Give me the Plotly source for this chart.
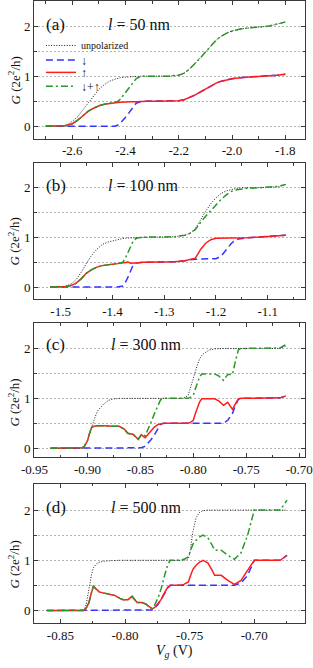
import plotly.graph_objects as go

# ---------------- data ----------------
# panel (a)  l = 50 nm
xa = [-2.70, -2.66, -2.63, -2.62, -2.60, -2.58, -2.56, -2.54, -2.52, -2.50, -2.48, -2.46, -2.44, -2.43,
      -2.42, -2.40, -2.38, -2.36, -2.34, -2.32, -2.28, -2.24, -2.20, -2.18, -2.16, -2.14, -2.12, -2.10,
      -2.08, -2.06, -2.04, -2.02, -2.00, -1.97, -1.94, -1.90, -1.86, -1.83, -1.80]
unpol_a = [0, 0, 0.01, 0.03, 0.10, 0.19, 0.33, 0.48, 0.62, 0.74, 0.83, 0.90, 0.94, 0.955,
           0.97, 0.98, 0.99, 1.0, 1.0, 1.0, 1.0, 1.0, 1.02, 1.06, 1.14, 1.24, 1.36, 1.48,
           1.60, 1.72, 1.80, 1.86, 1.90, 1.94, 1.96, 1.98, 2.0, 2.04, 2.08]
down_a = [0, 0, 0, 0, 0, 0, 0, 0, 0, 0, 0, 0, 0, 0.02,
          0.06, 0.18, 0.33, 0.46, 0.5, 0.5, 0.5, 0.5, 0.51, 0.53, 0.57, 0.62, 0.68, 0.74,
          0.80, 0.86, 0.90, 0.93, 0.95, 0.97, 0.98, 0.99, 1.0, 1.02, 1.04]
up_a = [0, 0, 0.01, 0.02, 0.05, 0.12, 0.21, 0.30, 0.36, 0.41, 0.44, 0.46, 0.47, 0.475,
        0.48, 0.49, 0.49, 0.49, 0.5, 0.5, 0.5, 0.5, 0.51, 0.53, 0.57, 0.62, 0.68, 0.74,
        0.80, 0.86, 0.90, 0.93, 0.95, 0.97, 0.98, 0.99, 1.0, 1.02, 1.04]
sum_a = [0, 0, 0.01, 0.02, 0.05, 0.12, 0.21, 0.30, 0.36, 0.41, 0.44, 0.46, 0.47, 0.495,
         0.54, 0.67, 0.82, 0.95, 1.0, 1.0, 1.0, 1.0, 1.02, 1.06, 1.14, 1.24, 1.36, 1.48,
         1.60, 1.72, 1.80, 1.86, 1.90, 1.94, 1.96, 1.98, 2.0, 2.04, 2.08]

# panel (b)  l = 100 nm
xb = [-1.52, -1.50, -1.49, -1.48, -1.47, -1.46, -1.45, -1.44, -1.43, -1.42, -1.41, -1.40, -1.39, -1.38,
      -1.375, -1.37, -1.365, -1.36, -1.355, -1.35, -1.34, -1.32, -1.30, -1.28, -1.26, -1.25, -1.24,
      -1.235, -1.23, -1.22, -1.21, -1.20, -1.19, -1.18, -1.17, -1.16, -1.15, -1.14, -1.12, -1.10,
      -1.08, -1.065]
unpol_b = [0, 0, 0.02, 0.06, 0.15, 0.30, 0.48, 0.64, 0.76, 0.85, 0.90, 0.93, 0.96, 0.975,
           0.98, 0.985, 0.99, 0.995, 1.0, 1.0, 1.0, 1.0, 1.0, 1.01, 1.04, 1.08, 1.17,
           1.25, 1.34, 1.52, 1.67, 1.79, 1.88, 1.93, 1.96, 1.98, 1.99, 1.99, 2.0, 2.0,
           2.01, 2.05]
down_b = [0, 0, 0, 0, 0, 0, 0, 0, 0, 0, 0, 0, 0, 0.02,
          0.09, 0.20, 0.34, 0.44, 0.48, 0.49, 0.5, 0.5, 0.5, 0.51, 0.53, 0.55, 0.56,
          0.56, 0.56, 0.56, 0.56, 0.57, 0.62, 0.74, 0.88, 0.96, 0.98, 0.99, 1.0, 1.01,
          1.02, 1.04]
up_b = [0, 0, 0.01, 0.03, 0.08, 0.17, 0.28, 0.35, 0.40, 0.43, 0.45, 0.46, 0.47, 0.48,
        0.49, 0.50, 0.48, 0.48, 0.49, 0.49, 0.5, 0.5, 0.5, 0.51, 0.53, 0.55, 0.58,
        0.66, 0.75, 0.88, 0.95, 0.98, 0.98, 0.98, 0.98, 0.99, 0.99, 0.99, 1.0, 1.01,
        1.02, 1.04]
sum_b = [0, 0, 0.01, 0.03, 0.08, 0.17, 0.28, 0.35, 0.40, 0.43, 0.45, 0.46, 0.47, 0.50,
         0.58, 0.70, 0.82, 0.92, 0.97, 0.99, 1.0, 1.0, 1.0, 1.01, 1.04, 1.08, 1.15,
         1.21, 1.29, 1.42, 1.54, 1.65, 1.76, 1.85, 1.92, 1.95, 1.97, 1.98, 1.99, 2.0,
         2.02, 2.06]

# panel (c)  l = 300 nm
xc = [-0.935, -0.91, -0.905, -0.903, -0.900, -0.898, -0.896, -0.894, -0.892, -0.890, -0.885, -0.880,
      -0.875, -0.870, -0.865, -0.862, -0.857, -0.852, -0.849, -0.8455, -0.843, -0.840, -0.837,
      -0.834, -0.831, -0.828, -0.820, -0.810, -0.805, -0.802, -0.800, -0.798, -0.796, -0.794,
      -0.792, -0.790, -0.787, -0.785, -0.780, -0.776, -0.7715, -0.7675, -0.763, -0.7605,
      -0.7575, -0.755, -0.740, -0.725, -0.718, -0.7125]
unpol_c = [0, 0, 0, 0.02, 0.15, 0.30, 0.43, 0.57, 0.67, 0.76, 0.88, 0.96,
           0.99, 1.0, 1.0, 1.0, 1.0, 1.0, 1.0, 1.0, 1.0, 1.0, 1.0,
           1.0, 1.0, 1.0, 1.0, 1.0, 1.05, 1.26, 1.42, 1.57, 1.68, 1.79,
           1.86, 1.90, 1.95, 1.97, 1.99, 2.0, 2.0, 2.0, 2.0, 2.0,
           2.0, 2.0, 2.0, 2.0, 2.0, 2.05]
down_c = [0, 0, 0, 0, 0, 0, 0, 0, 0, 0, 0, 0,
          0, 0, 0, 0, 0, 0, 0.01, 0.04, 0.09, 0.17, 0.26,
          0.36, 0.48, 0.5, 0.5, 0.5, 0.5, 0.5, 0.5, 0.5, 0.5, 0.5,
          0.5, 0.5, 0.5, 0.5, 0.5, 0.5, 0.5, 0.56, 0.70, 0.84,
          0.98, 1.0, 1.0, 1.0, 1.01, 1.05]
up_c = [0, 0, 0.01, 0.04, 0.15, 0.30, 0.42, 0.44, 0.45, 0.45, 0.45, 0.44,
        0.44, 0.44, 0.38, 0.30, 0.28, 0.18, 0.27, 0.21, 0.27, 0.35, 0.42,
        0.47, 0.49, 0.5, 0.5, 0.5, 0.5, 0.53, 0.56, 0.70, 0.82, 0.93,
        0.99, 0.99, 0.99, 0.99, 0.99, 0.95, 0.86, 0.92, 0.78, 0.88,
        0.99, 1.0, 1.0, 1.0, 1.01, 1.05]
sum_c = [0, 0, 0.01, 0.04, 0.15, 0.30, 0.42, 0.44, 0.45, 0.45, 0.45, 0.44,
         0.44, 0.44, 0.38, 0.30, 0.28, 0.18, 0.28, 0.25, 0.36, 0.52, 0.68,
         0.83, 0.97, 1.0, 1.0, 1.0, 1.0, 1.03, 1.06, 1.20, 1.32, 1.43,
         1.49, 1.49, 1.49, 1.49, 1.49, 1.45, 1.36, 1.48, 1.48, 1.72,
         1.97, 2.0, 2.0, 2.0, 2.01, 2.08]

# panel (d)  l = 500 nm
xd = [-0.8605, -0.840, -0.832, -0.830, -0.828, -0.826, -0.8245, -0.822, -0.820, -0.817, -0.812, -0.808,
      -0.804, -0.801, -0.7975, -0.7945, -0.7907, -0.787, -0.784, -0.7805, -0.779, -0.777, -0.7745,
      -0.772, -0.7695, -0.767, -0.765, -0.761, -0.7575, -0.7545, -0.751, -0.7495, -0.7475, -0.745,
      -0.7425, -0.7397, -0.736, -0.733, -0.7307, -0.7256, -0.7205, -0.7154, -0.7103, -0.7052,
      -0.700, -0.690, -0.680, -0.6747]
unpol_d = [0, 0, 0, 0.12, 0.45, 0.70, 0.85, 0.93, 0.96, 0.98, 0.99, 1.0,
           1.0, 1.0, 1.0, 1.0, 1.0, 1.0, 1.0, 1.0, 1.0, 1.0, 1.0,
           1.0, 1.0, 1.0, 1.0, 1.0, 1.0, 1.0, 1.03, 1.20, 1.57, 1.85,
           1.95, 1.99, 2.0, 2.0, 2.0, 2.0, 2.0, 2.0, 2.0, 2.0,
           2.0, 2.0, 2.0, 2.0]
down_d = [0, 0, 0, 0, 0, 0, 0, 0, 0, 0, 0, 0,
          0, 0, 0, 0, 0, 0, 0, 0, 0.01, 0.05, 0.12,
          0.22, 0.34, 0.45, 0.5, 0.5, 0.5, 0.5, 0.5, 0.5, 0.5, 0.5,
          0.5, 0.5, 0.5, 0.5, 0.5, 0.5, 0.5, 0.5, 0.55, 0.70,
          1.0, 1.0, 1.0, 1.1]
up_d = [0, 0, 0, 0.05, 0.15, 0.35, 0.48, 0.42, 0.37, 0.35, 0.33, 0.30,
        0.24, 0.21, 0.22, 0.28, 0.16, 0.16, 0.13, 0.05, 0.03, 0.06, 0.13,
        0.22, 0.35, 0.46, 0.5, 0.5, 0.5, 0.52, 0.57, 0.68, 0.82, 0.90,
        0.96, 1.0, 0.95, 0.82, 0.70, 0.70, 0.60, 0.52, 0.60, 0.80,
        1.0, 1.0, 1.0, 1.1]
sum_d = [0, 0, 0, 0.05, 0.15, 0.35, 0.48, 0.42, 0.37, 0.35, 0.33, 0.30,
         0.24, 0.21, 0.22, 0.28, 0.16, 0.16, 0.13, 0.05, 0.04, 0.11, 0.25,
         0.44, 0.69, 0.91, 1.0, 1.0, 1.0, 1.02, 1.07, 1.18, 1.32, 1.40,
         1.46, 1.50, 1.45, 1.32, 1.20, 1.20, 1.10, 1.02, 1.15, 1.50,
         2.0, 2.0, 2.0, 2.2]

series_names = ["unpolarized", "↓", "↑", "↓+↑"]
panel_labels = ["(a)", "(b)", "(c)", "(d)"]
length_labels = ["<i>l</i> = 50 nm", "<i>l</i> = 100 nm", "<i>l</i> = 300 nm", "<i>l</i> = 500 nm"]

xtick_a = [-2.6, -2.4, -2.2, -2.0, -1.8]
xtick_a_text = ["-2.6", "-2.4", "-2.2", "-2.0", "-1.8"]
xtick_b = [-1.5, -1.4, -1.3, -1.2, -1.1]
xtick_b_text = ["-1.5", "-1.4", "-1.3", "-1.2", "-1.1"]
xtick_c = [-0.95, -0.90, -0.85, -0.80, -0.75, -0.70]
xtick_c_text = ["-0.95", "-0.90", "-0.85", "-0.80", "-0.75", "-0.70"]
xtick_d = [-0.85, -0.80, -0.75, -0.70]
xtick_d_text = ["-0.85", "-0.80", "-0.75", "-0.70"]
ytick_vals = [0, 1, 2]
ytick_text = ["0", "1", "2"]

# ---------------- layout helpers ----------------
W, H = 313, 668
ML, MR, MT, MB = 34, 5, 0, 45
PW, PH = W - ML - MR, H - MT - MB


def xp(px):
    return (px - ML) / PW


def yp(py):
    return (H - MB - py) / PH


FONT = "Liberation Serif"
AX = "#3a3a3a"

panels = [
    dict(x=xa, ys=[unpol_a, down_a, up_a, sum_a], xr=[-2.744, -1.726], yr=[-0.25, 2.5],
         top=0, bot=138, tv=xtick_a, tt=xtick_a_text, mt0=-2.7, mdt=0.1),
    dict(x=xb, ys=[unpol_b, down_b, up_b, sum_b], xr=[-1.5515, -1.028], yr=[-0.24, 2.48],
         top=162.7, bot=298.5, tv=xtick_b, tt=xtick_b_text, mt0=-1.55, mdt=0.05),
    dict(x=xc, ys=[unpol_c, down_c, up_c, sum_c], xr=[-0.9505, -0.6945], yr=[-0.18, 2.5],
         top=323, bot=457, tv=xtick_c, tt=xtick_c_text, mt0=-0.95, mdt=0.025),
    dict(x=xd, ys=[unpol_d, down_d, up_d, sum_d], xr=[-0.8704, -0.6608], yr=[-0.25, 2.53],
         top=483.3, bot=623, tv=xtick_d, tt=xtick_d_text, mt0=-0.875, mdt=0.025),
]

styles = [
    dict(color="#1a1a1a", width=1, dash="1px,1.6px"),
    dict(color="#3434ff", width=1.5, dash="7px,4px"),
    dict(color="#ff1c1c", width=1.5),
    dict(color="#2a962a", width=1.5, dash="7px,3px,2px,3px"),
]
legend_ids = ["legend", "legend2", "legend3", "legend4"]
legend_py = [44.5, 59, 71.5, 85.5]
legend_fs = [10, 12, 12, 12]

fig = go.Figure()
layout = dict(
    width=W, height=H,
    margin=dict(l=ML, r=MR, t=MT, b=MB),
    paper_bgcolor="white", plot_bgcolor="white",
    font=dict(family=FONT, size=13, color="#111"),
    annotations=[],
)

for i, p in enumerate(panels):
    sfx = "" if i == 0 else str(i + 1)
    for j, y in enumerate(p["ys"]):
        fig.add_trace(go.Scatter(
            x=p["x"], y=y, mode="lines", name=series_names[j],
            line=styles[j], xaxis="x" + sfx, yaxis="y" + sfx,
            showlegend=(i == 0), legend=legend_ids[j], hoverinfo="skip",
        ))
    layout["xaxis" + sfx] = dict(
        domain=[0, 1], anchor="y" + sfx, range=p["xr"],
        showline=True, linecolor=AX, linewidth=1, mirror="ticks",
        ticks="inside", ticklen=4, tickcolor=AX, tickwidth=1,
        tickmode="array", tickvals=p["tv"], ticktext=p["tt"],
        tickfont=dict(family=FONT, size=13, color="#111"),
        ticklabeloverflow="allow",
        showgrid=False, zeroline=False,
        minor=dict(ticks="inside", ticklen=2.5, tickcolor=AX, tick0=p["mt0"], dtick=p["mdt"],
                   showgrid=False),
    )
    layout["yaxis" + sfx] = dict(
        domain=[yp(p["bot"]), yp(p["top"])], anchor="x" + sfx, range=p["yr"],
        showline=True, linecolor=AX, linewidth=1, mirror="ticks",
        ticks="inside", ticklen=4, tickcolor=AX, tickwidth=1,
        tickmode="array", tickvals=ytick_vals, ticktext=ytick_text,
        tickfont=dict(family=FONT, size=13, color="#111"),
        showgrid=True, gridcolor="#b4b4b4", gridwidth=1, griddash="2px,2px",
        zeroline=False,
        minor=dict(ticks="inside", ticklen=2.5, tickcolor=AX, tickmode="array",
                   tickvals=[0.5, 1.5], showgrid=True, gridcolor="#b4b4b4",
                   gridwidth=1, griddash="2px,2px"),
    )
    lab_py = [24, 185, 344, 507][i]
    layout["annotations"].append(dict(
        text=panel_labels[i], xref="paper", yref="paper", x=xp(44), y=yp(lab_py),
        xanchor="left", yanchor="middle", showarrow=False,
        font=dict(family=FONT, size=17, color="#111")))
    layout["annotations"].append(dict(
        text=length_labels[i], xref="paper", yref="paper", x=xp([107, 107, 110, 110][i]),
        y=yp(lab_py), xanchor="left", yanchor="middle", showarrow=False,
        font=dict(family=FONT, size=16, color="#111")))
    layout["annotations"].append(dict(
        text="<i>G</i> (2e<sup>2</sup>/h)", xref="paper", yref="y" + sfx, x=xp(14), y=0.92,
        xanchor="center", yanchor="middle", textangle=-90, showarrow=False,
        font=dict(family=FONT, size=13, color="#111")))

layout["annotations"].append(dict(
    text="<i>V</i><sub><i>g</i></sub> (V)", xref="paper", yref="paper", x=xp(176), y=yp(652),
    xanchor="center", yanchor="middle", showarrow=False,
    font=dict(family=FONT, size=14, color="#111")))

for k, lid in enumerate(legend_ids):
    layout[lid] = dict(
        x=xp(41), y=yp(legend_py[k]), xanchor="left", yanchor="middle",
        bgcolor="rgba(0,0,0,0)", borderwidth=0,
        font=dict(family=FONT, size=legend_fs[k], color="#111"),
        itemwidth=30, tracegroupgap=0,
    )

fig.update_layout(**layout)
fig.write_html("out.html", config={"displayModeBar": False},
               post_script="document.body.style.margin='0px';")
